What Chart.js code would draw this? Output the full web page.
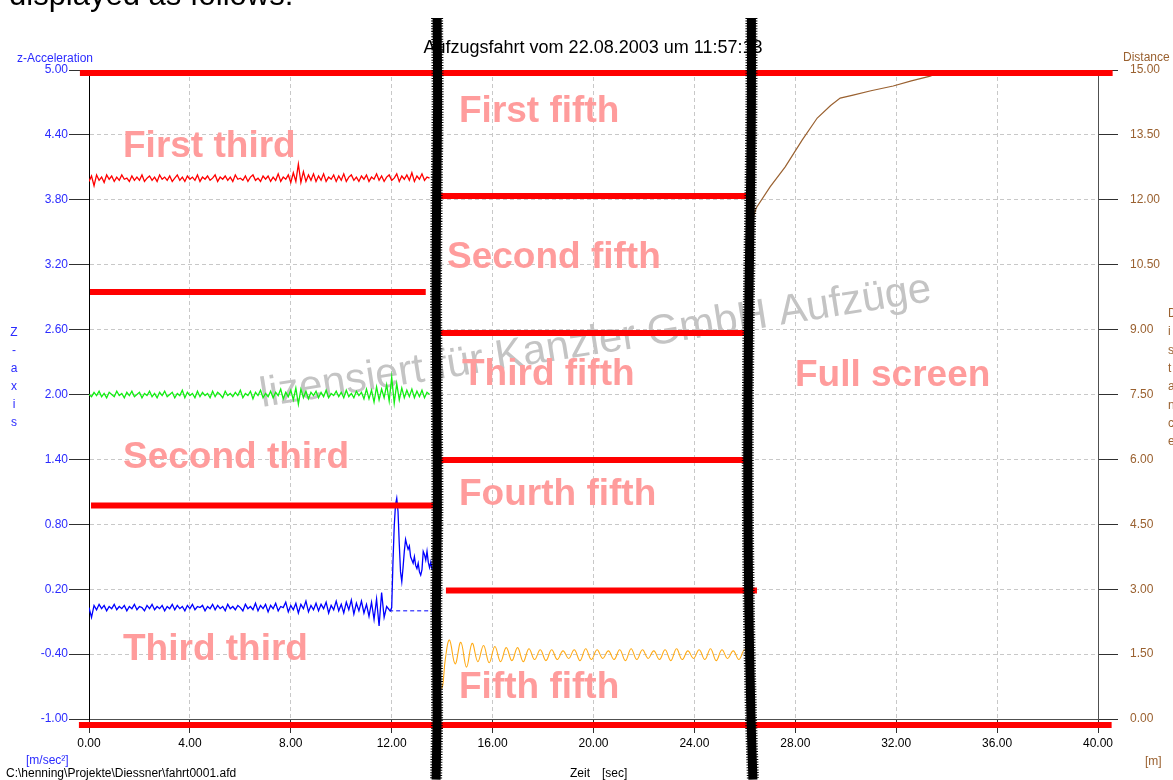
<!DOCTYPE html>
<html><head><meta charset="utf-8">
<script src="https://cdn.jsdelivr.net/npm/chart.js@4.4.1/dist/chart.umd.min.js"></script>
<style>html,body{margin:0;padding:0;background:#fff;overflow:hidden}canvas{display:block}</style>
</head><body>
<canvas id="c" width="1173" height="780"></canvas>
<script>
// ---------------- data ----------------
const xTickValues = [0, 4, 8, 12, 16, 20, 24, 28, 32, 36, 40];
const accTickValues = [-1.0, -0.4, 0.2, 0.8, 1.4, 2.0, 2.6, 3.2, 3.8, 4.4, 5.0];
const distTickValues = [0, 1.5, 3, 4.5, 6, 7.5, 9, 10.5, 12, 13.5, 15];

const sampleStep = 0.1; // seconds between samples of the noise traces

const redNoise = [
  3.97,4.02,3.93,4.03,3.98,4.01,3.96,4.03,3.99,4.02,
  3.97,4.01,3.98,4.03,3.99,4.00,3.97,4.02,3.98,4.01,
  3.98,4.03,3.97,4.00,4.02,3.98,4.01,3.97,4.03,3.99,
  4.01,3.98,4.02,3.97,4.00,4.03,3.98,4.01,3.97,4.02,
  3.99,4.01,3.98,4.03,3.97,4.01,3.99,4.02,3.98,4.00,
  4.03,3.97,4.01,3.99,4.02,3.98,4.01,3.97,4.03,3.99,
  4.00,3.98,4.02,3.97,4.01,4.03,3.98,4.00,3.97,4.02,
  3.99,4.02,3.97,4.01,3.98,4.04,3.97,4.01,3.99,4.03,
  3.96,4.05,3.97,4.13,3.96,4.06,3.97,4.03,3.98,4.04,
  3.97,4.02,3.98,4.04,3.97,4.01,3.99,4.03,3.97,4.02,
  3.98,4.04,3.97,4.01,4.03,3.98,4.01,3.97,4.02,3.99,
  4.03,3.97,4.01,3.99,4.04,3.98,4.02,3.97,4.01,4.03,
  3.98,4.00,4.04,3.97,4.02,3.99,4.03,3.98,4.05,3.97,
  4.02,3.99,4.04,3.98,4.01,4.00
];

const greenNoise = [
  2.00,1.98,2.02,1.99,2.03,1.98,2.01,1.97,2.02,2.00,
  1.98,2.03,1.99,2.01,1.97,2.02,1.99,2.03,1.98,2.00,
  2.02,1.97,2.01,1.99,2.03,1.98,2.01,1.97,2.02,1.99,
  2.03,1.98,2.00,2.02,1.97,2.01,1.99,2.04,1.97,2.02,
  1.99,2.01,1.97,2.03,1.98,2.02,1.99,2.01,1.97,2.03,
  1.98,2.02,2.00,1.97,2.03,1.99,2.01,1.98,2.02,1.99,
  2.04,1.97,2.01,1.99,2.03,1.96,2.02,1.99,2.04,1.97,
  2.01,1.98,2.03,1.97,2.02,1.99,2.05,1.96,2.02,1.98,
  2.04,1.95,2.06,1.91,2.05,1.97,2.03,1.96,2.02,1.99,
  2.03,1.97,2.02,1.98,2.04,1.97,2.01,1.99,2.03,1.98,
  2.02,1.97,2.04,1.98,2.01,1.97,2.03,1.99,2.02,1.96,
  2.05,1.96,2.04,1.93,2.07,1.95,2.05,1.97,2.09,1.94,
  2.16,1.92,2.10,1.95,2.06,1.97,2.04,1.98,2.05,1.97,
  2.03,1.98,2.04,1.97,2.02,2.00
];

const blueNoise = [
  0.03,-0.06,0.05,0.01,0.06,0.02,0.05,0.00,0.04,0.02,
  0.06,0.01,0.04,0.02,0.05,0.00,0.04,0.02,0.06,0.01,
  0.04,0.03,0.00,0.05,0.02,0.06,0.01,0.04,0.02,0.05,
  0.00,0.04,0.02,0.06,0.01,0.05,0.02,0.04,0.00,0.05,
  0.02,0.06,0.01,0.04,0.03,0.05,0.00,0.04,0.02,0.06,
  0.01,0.05,0.02,0.04,0.00,0.06,0.02,0.04,0.01,0.05,
  0.03,0.00,0.06,0.02,0.04,0.01,0.07,0.00,0.05,0.02,
  0.06,-0.01,0.05,0.02,0.07,0.00,0.04,0.03,0.08,-0.01,
  0.05,0.01,0.07,-0.02,0.06,0.02,0.09,-0.01,0.05,0.01,
  0.07,0.00,0.06,0.02,0.08,-0.02,0.05,0.01,0.09,0.00,
  0.06,-0.02,0.08,0.01,0.10,-0.03,0.07,0.00,0.09,-0.02,
  0.06,-0.05,0.08,-0.08,0.11,-0.14,0.17,-0.06,0.04,0.01
];
const blueTailX = [11.95,12.0,12.05,12.1,12.15,12.2,12.25,12.3,12.35,12.4,12.45,12.5,12.55,12.6,12.65,12.7,12.75,12.8,12.85,12.9,12.95,13.0,13.05,13.1,13.15,13.2,13.25,13.3,13.35,13.4,13.45,13.5,13.55,13.6];
const blueTailY = [0.00,0.03,0.45,0.78,0.98,1.04,0.92,0.62,0.36,0.27,0.40,0.55,0.66,0.61,0.57,0.60,0.50,0.47,0.44,0.50,0.42,0.39,0.44,0.36,0.33,0.38,0.55,0.52,0.47,0.55,0.45,0.40,0.45,0.38];
const blueRefX = [11.9, 13.6];
const blueRefY = [0.0, 0.0];

const orangeLeadX = [13.98, 14.03, 14.13];
const orangeLeadY = [-0.72, -0.68, -0.44];
const orangeStart = 14.29;     // first peak time
const orangeHalfPeriod = 0.225; // time between successive peak / trough samples
const orangePeaks = [
  -0.27,-0.49,-0.29,-0.52,-0.30,-0.47,-0.32,-0.48,-0.33,-0.47,
  -0.34,-0.46,-0.34,-0.47,-0.35,-0.45,-0.36,-0.46,-0.36,-0.45,
  -0.37,-0.44,-0.36,-0.46,-0.35,-0.45,-0.36,-0.44,-0.37,-0.45,
  -0.36,-0.46,-0.35,-0.45,-0.36,-0.44,-0.37,-0.45,-0.36,-0.46,
  -0.35,-0.45,-0.37,-0.44,-0.36,-0.45,-0.35,-0.46,-0.36,-0.44,
  -0.37,-0.45,-0.36,-0.44
];

const distanceX = [26.35,26.45,27.0,27.6,28.27,28.87,29.4,29.78,30.29,31.0,31.88,32.6,33.35,33.9,40];
const distanceY = [11.62,11.81,12.30,12.76,13.38,13.89,14.18,14.35,14.42,14.52,14.63,14.75,14.86,15.0,15.0];

// red section marker bars (z-axis units)
const barLevel = [4.972, -1.055, 2.948, 0.974, 3.835, 2.569, 1.395, 0.188];
const barFrom  = [-0.36, -0.40, 0.04, 0.08, 13.84, 13.85, 13.91, 14.15];
const barTo    = [40.58, 40.54, 13.35, 13.76, 26.24, 26.24, 26.20, 26.48];

// hand-drawn black separators (z-axis units)
const sepY      = [5.48, 4.70, 3.80, 2.90, 1.90, 0.95, 0.00, -0.95, -1.56];
const sepLeftX  = [13.80, 13.82, 13.78, 13.76, 13.79, 13.81, 13.77, 13.80, 13.76];
const sepRightX = [26.26, 26.26, 26.22, 26.16, 26.12, 26.12, 26.16, 26.24, 26.32];

const sectionLabels = ['First third','Second third','Third third','First fifth','Second fifth','Third fifth','Fourth fifth','Fifth fifth','Full screen'];

// ---------------- build ----------------
const pts = (xs, ys) => xs.map((x, i) => ({x: x, y: ys[i]}));
const sampleTimes = (arr, start, step) => arr.map((_, i) => +(start + i * step).toFixed(4));

const FONT = '"Liberation Sans", Arial, Helvetica, sans-serif';
const BLUE = '#2b2bff';
const BROWN = '#9a6130';

const datasets = [];
// separators (top-most)
[sepLeftX, sepRightX].forEach(xs => {
  datasets.push({data: pts(xs, sepY), borderColor: '#000', borderWidth: 9, clip: false, order: 0, tension: 0.3});
  datasets.push({data: pts(xs, sepY), borderColor: '#000', borderWidth: 12, borderDash: [1, 1.6], clip: false, order: 0, tension: 0.3});
});
// red bars
barLevel.forEach((lv, i) => {
  datasets.push({data: [{x: barFrom[i], y: lv}, {x: barTo[i], y: lv}], borderColor: '#ff0000', borderWidth: 6, borderCapStyle: 'butt', clip: false, order: 1});
});
// signals
datasets.push({data: pts(sampleTimes(redNoise, 0, sampleStep), redNoise), borderColor: '#ff0000', borderWidth: 1.3, order: 2});
datasets.push({data: pts(sampleTimes(greenNoise, 0, sampleStep), greenNoise), borderColor: '#11ee11', borderWidth: 1.3, order: 2});
datasets.push({data: pts(sampleTimes(blueNoise, 0, sampleStep), blueNoise).concat(pts(blueTailX, blueTailY)), borderColor: '#0000ff', borderWidth: 1.3, order: 2});
datasets.push({data: pts(blueRefX, blueRefY), borderColor: '#0000ff', borderWidth: 1, borderDash: [4, 3], order: 2});
datasets.push({data: pts(orangeLeadX, orangeLeadY).concat(pts(sampleTimes(orangePeaks, orangeStart, orangeHalfPeriod), orangePeaks)), borderColor: '#ffaa14', borderWidth: 1.1, tension: 0.4, order: 2});
datasets.push({data: pts(distanceX, distanceY), borderColor: BROWN, borderWidth: 1.2, yAxisID: 'y2', order: 2});

const labelPos = [[123,157],[123,468],[123,660],[459,122],[447,268],[462,385],[459,505],[459,698],[795,386]];

const textPlugin = {
  id: 'texts',
  beforeDatasetsDraw(chart) {
    const ctx = chart.ctx;
    ctx.save();
    ctx.translate(262, 407);
    ctx.rotate(-9 * Math.PI / 180);
    ctx.font = '42px ' + FONT;
    ctx.fillStyle = '#c4c4c4';
    ctx.textAlign = 'left';
    ctx.textBaseline = 'alphabetic';
    ctx.fillText('lizensiert für Kanzler GmbH Aufzüge', 0, 0);
    ctx.restore();

    ctx.save();
    ctx.font = 'bold 37px ' + FONT;
    ctx.fillStyle = '#ff9c9c';
    ctx.textAlign = 'left';
    ctx.textBaseline = 'alphabetic';
    sectionLabels.forEach((t, i) => ctx.fillText(t, labelPos[i][0], labelPos[i][1]));
    ctx.restore();
  },
  afterDraw(chart) {
    const ctx = chart.ctx;
    ctx.save();
    ctx.textBaseline = 'alphabetic';
    ctx.textAlign = 'left';
    ctx.fillStyle = '#000';
    ctx.font = '31px ' + FONT;
    ctx.fillText('displayed as follows:', 9, 5);

    ctx.font = '18px ' + FONT;
    ctx.textAlign = 'center';
    ctx.fillText('Aufzugsfahrt vom 22.08.2003 um 11:57:13', 593, 53);

    ctx.font = '12px ' + FONT;
    ctx.textAlign = 'left';
    ctx.fillText('Zeit', 570, 777);
    ctx.fillText('[sec]', 602, 777);
    ctx.fillText('C:\\henning\\Projekte\\Diessner\\fahrt0001.afd', 6, 777);

    ctx.fillStyle = BLUE;
    ctx.fillText('z-Acceleration', 17, 62);
    ctx.fillText('[m/sec\u00B2]', 26, 764);
    ctx.textAlign = 'center';
    ['Z','-','a','x','i','s'].forEach((ch, i) => ctx.fillText(ch, 14, 336 + 18 * i));

    ctx.fillStyle = BROWN;
    ctx.textAlign = 'left';
    ctx.fillText('Distance', 1123, 61);
    ctx.fillText('[m]', 1145, 765);
    'Distance'.split('').forEach((ch, i) => ctx.fillText(ch, 1168, 317 + 18.3 * i));
    ctx.restore();
  }
};

const fixTicks = vals => scale => { scale.ticks = vals.map(v => ({value: v})); };

new Chart(document.getElementById('c'), {
  type: 'line',
  data: {datasets: datasets},
  plugins: [textPlugin],
  options: {
    responsive: false,
    animation: false,
    devicePixelRatio: 1,
    layout: {padding: {top: 70, left: 0, right: 0, bottom: 0}},
    elements: {point: {radius: 0}, line: {borderWidth: 1, tension: 0}},
    plugins: {legend: {display: false}, tooltip: {enabled: false}, title: {display: false}},
    scales: {
      x: {
        type: 'linear', min: 0, max: 40,
        afterBuildTicks: fixTicks(xTickValues),
        afterFit: s => { s.height = 61; },
        ticks: {callback: v => v.toFixed(2), color: '#000', font: {family: FONT, size: 12}, padding: 3, maxRotation: 0, autoSkip: false},
        grid: {color: '#c8c8c8', lineWidth: 1, tickColor: '#303030', tickLength: 14},
        border: {color: '#505050', width: 1, dash: [4, 3]}
      },
      y: {
        type: 'linear', position: 'left', min: -1, max: 5,
        afterBuildTicks: fixTicks(accTickValues),
        afterFit: s => { s.width = 89; },
        ticks: {callback: v => v.toFixed(2), color: BLUE, font: {family: FONT, size: 12}, padding: 1, autoSkip: false},
        grid: {color: '#c8c8c8', lineWidth: 1, tickColor: '#303030', tickLength: 20},
        border: {color: '#000', width: 1, dash: [4, 3]}
      },
      y2: {
        type: 'linear', position: 'right', min: 0, max: 15,
        afterBuildTicks: fixTicks(distTickValues),
        afterFit: s => { s.width = 75; },
        ticks: {callback: v => v.toFixed(2), color: BROWN, font: {family: FONT, size: 12}, padding: 12, autoSkip: false},
        grid: {drawOnChartArea: false, color: '#c8c8c8', tickColor: '#303030', tickLength: 20},
        border: {color: '#505050', width: 1}
      }
    }
  }
});
</script>
</body></html>
